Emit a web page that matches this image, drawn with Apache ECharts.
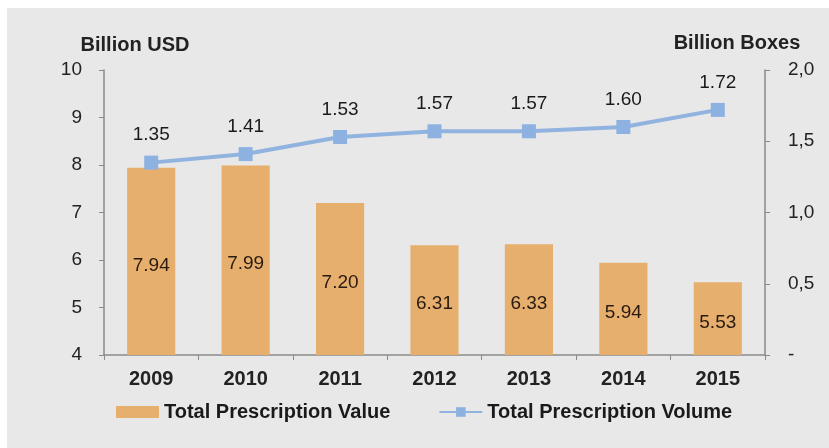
<!DOCTYPE html>
<html>
<head>
<meta charset="utf-8">
<script src="https://cdn.jsdelivr.net/npm/echarts@6/dist/echarts.min.js"></script>
<style>
html,body{margin:0;padding:0;background:#ffffff;}
#c{position:absolute;left:7px;top:8px;width:822px;height:440px;}
</style>
</head>
<body>
<div id="c"></div>
<script>
const years = ['2009','2010','2011','2012','2013','2014','2015'];
const valueUSD = [7.94, 7.99, 7.20, 6.31, 6.33, 5.94, 5.53];
const volumeBoxes = [1.35, 1.41, 1.53, 1.57, 1.57, 1.60, 1.72];
const leftTicks = [4, 5, 6, 7, 8, 9, 10];
const rightTickLabels = {0: '-', 0.5: '0,5', 1: '1,0', 1.5: '1,5', 2: '2,0'};

const chart = echarts.init(document.getElementById('c'), null, {renderer: 'canvas'});
const font = 'Liberation Sans, Arial, sans-serif';
chart.setOption({
  backgroundColor: '#e8e8e8',
  animation: false,
  textStyle: {fontFamily: font},
  grid: {left: 97, right: 64, top: 62, bottom: 93},
  legend: {
    top: 389, left: 104, itemGap: 48,
    textStyle: {fontSize: 20, fontWeight: 'bold', color: '#1a1a1a', fontFamily: font},
    data: [
      {name: 'Total Prescription Value', icon: 'rect', itemStyle: {color: '#e6af6e'}},
      {name: 'Total Prescription Volume'}
    ],
    itemWidth: 43, itemHeight: 12
  },
  xAxis: {
    type: 'category', data: years,
    axisLine: {lineStyle: {color: '#8a8a8a', width: 1.5}},
    axisTick: {show: true, alignWithLabel: false, length: 5, lineStyle: {color: '#8a8a8a'}},
    axisLabel: {fontSize: 20, fontWeight: 'bold', color: '#222', margin: 14}
  },
  yAxis: [
    {
      type: 'value', min: 4, max: 10, interval: 1,
      name: 'Billion USD', nameGap: 15,
      nameTextStyle: {fontSize: 20, fontWeight: 'bold', color: '#222', align: 'center', padding: [0, 0, 0, 62]},
      axisLine: {show: true, lineStyle: {color: '#8a8a8a', width: 1.5}},
      axisTick: {show: true, length: 5, lineStyle: {color: '#8a8a8a'}},
      splitLine: {show: false},
      axisLabel: {fontSize: 19, color: '#222', margin: 22}
    },
    {
      type: 'value', min: 0, max: 2, interval: 0.5,
      name: 'Billion Boxes', nameGap: 17,
      nameTextStyle: {fontSize: 20, fontWeight: 'bold', color: '#222', align: 'center', padding: [0, 56, 0, 0]},
      axisLine: {show: true, lineStyle: {color: '#8a8a8a', width: 1.5}},
      axisTick: {show: true, length: 5, lineStyle: {color: '#8a8a8a'}},
      splitLine: {show: false},
      axisLabel: {fontSize: 19, color: '#222', margin: 23,
        formatter: v => rightTickLabels[v] !== undefined ? rightTickLabels[v] : v}
    }
  ],
  series: [
    {
      name: 'Total Prescription Value', type: 'bar', yAxisIndex: 0,
      data: valueUSD, barWidth: '51%',
      itemStyle: {color: '#e6af6e'},
      label: {show: true, position: 'inside', offset: [0, 4], fontSize: 19, color: '#2a1a10',
        formatter: p => p.value.toFixed(2)}
    },
    {
      name: 'Total Prescription Volume', type: 'line', yAxisIndex: 1,
      data: volumeBoxes,
      symbol: 'rect', symbolSize: 14,
      lineStyle: {color: '#91b3e0', width: 4},
      itemStyle: {color: '#8db2e2'},
      label: {show: true, position: 'top', distance: 11, fontSize: 19, color: '#1a1a1a',
        formatter: p => p.value.toFixed(2)}
    }
  ]
});
</script>
</body>
</html>
